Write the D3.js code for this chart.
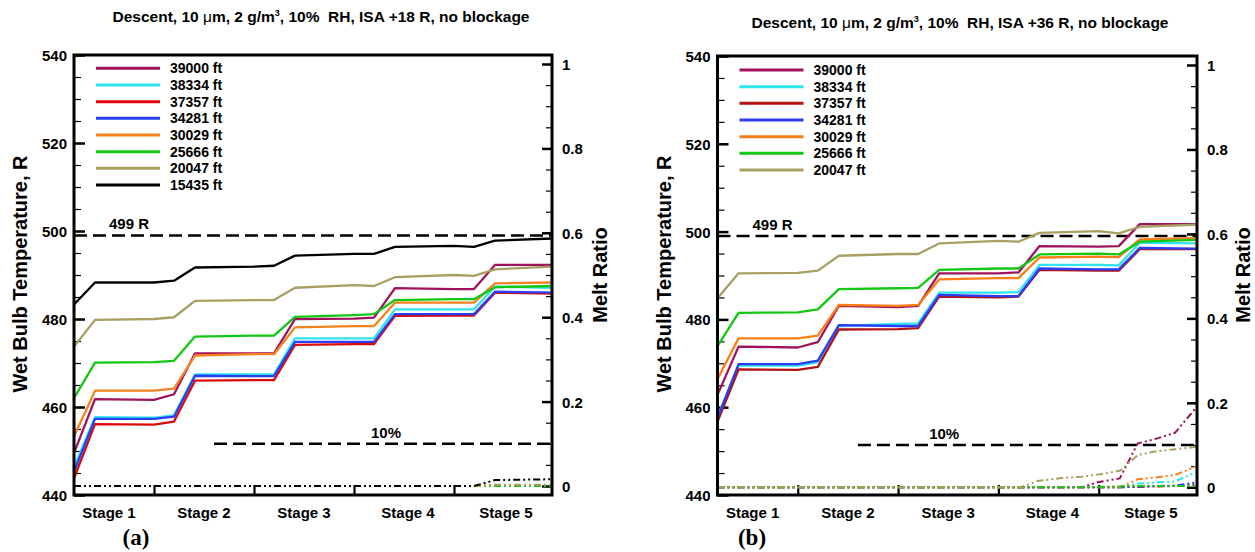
<!DOCTYPE html>
<meta charset="utf-8">
<style>
body { margin: 0; background: #fff; }
svg { font-family: "Liberation Sans", Arial, sans-serif; font-weight: bold; }
.axis path { display: none; }
.axis text { font-size: 15px; font-weight: bold; fill: #000; }
</style>
<body>
<script src="https://cdn.jsdelivr.net/npm/d3@7"></script>
<script>

// ---- data ----
var stageX = [0.2, 0.41, 1.0, 1.2, 1.41, 2.0, 2.2, 2.41, 3.0, 3.2, 3.41, 4.0, 4.2, 4.41, 4.98];
var stageLabels = ["Stage 1", "Stage 2", "Stage 3", "Stage 4", "Stage 5"];
var stageLabelX = [0.55, 1.5, 2.5, 3.54, 4.52];
var stageBounds = [1, 2, 3, 4];

var altitudesA = ["39000 ft", "38334 ft", "37357 ft", "34281 ft", "30029 ft", "25666 ft", "20047 ft", "15435 ft"];
var altitudesB = ["39000 ft", "38334 ft", "37357 ft", "34281 ft", "30029 ft", "25666 ft", "20047 ft"];

// wet bulb temperature, R  (panel a: ISA +18 R)
var wbtA39000 = [449.5, 461.8, 461.6, 462.9, 472.2, 472.2, 472.2, 480.0, 480.1, 480.3, 487.0, 486.8, 486.8, 492.3, 492.3];
var wbtA38334 = [446.4, 457.7, 457.6, 458.1, 467.4, 467.4, 467.4, 475.6, 475.6, 475.6, 482.2, 482.2, 482.2, 487.4, 487.1];
var wbtA37357 = [443.8, 456.1, 456.0, 456.7, 466.0, 466.1, 466.1, 474.1, 474.3, 474.3, 480.7, 480.8, 480.8, 486.0, 485.8];
var wbtA34281 = [445.3, 457.3, 457.3, 457.8, 467.1, 467.0, 467.0, 474.8, 474.8, 474.8, 481.1, 481.1, 481.1, 486.2, 486.0];
var wbtA30029 = [453.3, 463.7, 463.7, 464.2, 471.7, 472.0, 472.0, 478.1, 478.4, 478.4, 483.7, 483.7, 483.7, 488.1, 488.3];
var wbtA25666 = [462.0, 470.1, 470.2, 470.5, 476.0, 476.2, 476.2, 480.5, 480.9, 481.1, 484.3, 484.5, 484.5, 487.2, 487.5];
var wbtA20047 = [473.7, 479.8, 480.0, 480.4, 484.1, 484.3, 484.3, 487.1, 487.7, 487.5, 489.5, 490.0, 489.8, 491.3, 491.9];
var wbtA15435 = [483.3, 488.3, 488.3, 488.7, 491.7, 491.9, 492.1, 494.4, 494.8, 494.8, 496.4, 496.6, 496.4, 497.8, 498.3];

// wet bulb temperature, R  (panel b: ISA +36 R)
var wbtB39000 = [462.8, 473.8, 473.6, 474.8, 483.1, 482.8, 483.1, 490.5, 490.5, 490.7, 496.7, 496.6, 496.7, 501.7, 501.7];
var wbtB38334 = [457.8, 469.5, 469.5, 470.2, 478.5, 479.0, 479.1, 486.1, 486.1, 486.2, 492.4, 492.4, 492.3, 497.5, 497.3];
var wbtB37357 = [456.7, 468.6, 468.5, 469.2, 477.7, 477.8, 478.0, 485.2, 485.0, 485.2, 491.3, 491.1, 491.1, 496.0, 496.0];
var wbtB34281 = [457.5, 469.8, 469.8, 470.6, 478.7, 478.5, 478.5, 485.6, 485.3, 485.3, 491.6, 491.4, 491.4, 496.3, 496.1];
var wbtB30029 = [466.4, 475.7, 475.7, 476.3, 483.3, 483.1, 483.3, 489.1, 489.4, 489.4, 494.1, 494.3, 494.2, 498.2, 498.5];
var wbtB25666 = [473.9, 481.5, 481.6, 482.3, 486.9, 487.1, 487.2, 491.3, 491.6, 491.6, 494.8, 495.0, 494.8, 497.7, 498.1];
var wbtB20047 = [484.8, 490.5, 490.6, 491.1, 494.5, 494.9, 494.9, 497.3, 497.9, 497.7, 499.7, 500.1, 499.6, 501.1, 501.6];

// melt ratio (right axis)
var meltXA = [0.2, 4.2, 4.41, 4.98];
var meltA39000 = [0, 0, 0, 0];
var meltA38334 = [0, 0, 0, 0];
var meltA37357 = [0, 0, 0, 0];
var meltA34281 = [0, 0, 0, 0];
var meltA30029 = [0, 0, 0, 0];
var meltA25666 = [0, 0, 0, 0];
var meltA20047 = [0, 0, 0.003, 0.003];
var meltA15435 = [0, 0, 0.014, 0.016];

var meltXB = [0.2, 3.0, 3.22, 3.39, 3.63, 3.83, 3.99, 4.21, 4.39, 4.56, 4.76, 4.98];
var meltB39000 = [0, 0, 0, 0, 0, 0, 0.012, 0.021, 0.104, 0.114, 0.129, 0.191];
var meltB38334 = [0, 0, 0, 0, 0, 0, 0, 0, 0.009, 0.011, 0.014, 0.037];
var meltB37357 = [0, 0, 0, 0, 0, 0, 0, 0, 0.001, 0.002, 0.003, 0.006];
var meltB34281 = [0, 0, 0, 0, 0, 0, 0, 0, 0.002, 0.003, 0.004, 0.012];
var meltB30029 = [0, 0, 0, 0, 0, 0, 0, 0, 0.019, 0.023, 0.029, 0.05];
var meltB25666 = [0, 0, 0, 0, 0, 0, 0.001, 0.002, 0.003, 0.003, 0.003, 0.003];
var meltB20047 = [0, 0, 0, 0.015, 0.022, 0.025, 0.030, 0.039, 0.076, 0.085, 0.090, 0.096];

var tempTicks = [440, 460, 480, 500, 520, 540];
var meltTicks = [0, 0.2, 0.4, 0.6, 0.8, 1];
var limitTemp = 499;
var limitMelt = 0.1;

// colours, one per altitude (same order as the legends)
var colorsA = ["#a0135c", "#2fe3ef", "#dd0a0a", "#2b3cf5", "#f5821f", "#12c812", "#a8a062", "#000000"];
var colorsB = ["#a0135c", "#2fe3ef", "#b31212", "#2b3cf5", "#fb7d16", "#12c812", "#a8a062"];

var W = 1255, H = 552;
var svg = d3.select("body").append("svg")
    .attr("width", W)
    .attr("height", H);

function drawPanel(p) {
  var g = svg.append("g");

  var x = d3.scaleLinear().domain([0.2, 4.98]).range([p.left, p.right]);
  var y = d3.scaleLinear().domain([440, 540]).range([p.bottom, p.top]);
  var y2 = d3.scaleLinear().domain([0, 1]).range([p.meltZero, p.meltOne]);

  // minor ticks
  g.append("g").attr("class", "axis")
      .attr("transform", "translate(" + p.left + ",0)")
      .call(d3.axisLeft(y).tickValues(d3.range(440, 541, 5)).tickSize(-7).tickFormat(""))
      .selectAll("line").attr("stroke-width", 1.2);
  g.append("g").attr("class", "axis")
      .attr("transform", "translate(" + p.right + ",0)")
      .call(d3.axisRight(y2).tickValues(d3.range(0, 1.001, 0.05)).tickSize(-6).tickFormat(""))
      .selectAll("line").attr("stroke-width", 1.2);

  // major ticks + labels
  var la = g.append("g").attr("class", "axis")
      .attr("transform", "translate(" + p.left + ",0)")
      .call(d3.axisLeft(y).tickValues(tempTicks).tickSize(-11).tickPadding(7));
  la.selectAll("line").attr("stroke-width", 2.5);
  la.selectAll("text").attr("dy", "0.36em");

  var ra = g.append("g").attr("class", "axis")
      .attr("transform", "translate(" + p.right + ",0)")
      .call(d3.axisRight(y2).tickValues(meltTicks).tickSize(-10).tickPadding(10)
        .tickFormat(function(d) { return d3.format("")(+d.toFixed(1)); }));
  ra.selectAll("line").attr("stroke-width", 2.5);
  ra.selectAll("text").attr("dy", "0.36em");

  var ba = g.append("g").attr("class", "axis")
      .attr("transform", "translate(0," + p.bottom + ")")
      .call(d3.axisBottom(x).tickValues(stageBounds).tickSize(-10).tickFormat(""));
  ba.selectAll("line").attr("stroke-width", 2.2);

  // stage names between the ticks
  g.selectAll(".stage").data(stageLabels)
    .enter().append("text")
      .attr("x", function(d, i) { return x(stageLabelX[i]); })
      .attr("y", 518)
      .attr("text-anchor", "middle")
      .style("font-size", "15px")
      .text(function(d) { return d; });

  // reference lines
  g.append("line")
      .attr("x1", p.left).attr("x2", p.right)
      .attr("y1", y(limitTemp)).attr("y2", y(limitTemp))
      .attr("stroke", "#000").attr("stroke-width", 2.5)
      .attr("stroke-dasharray", "13,6");
  g.append("text")
      .attr("x", p.left + 35).attr("y", y(limitTemp) - 6)
      .style("font-size", "15px")
      .text("499 R");

  g.append("line")
      .attr("x1", x(1.6)).attr("x2", p.right)
      .attr("y1", y2(limitMelt)).attr("y2", y2(limitMelt))
      .attr("stroke", "#000").attr("stroke-width", 2.5)
      .attr("stroke-dasharray", "13,6");
  g.append("text")
      .attr("x", x(p.pctX)).attr("y", y2(limitMelt) - 6)
      .style("font-size", "15px")
      .text("10%");

  // melt ratio curves (dash dot dot)
  var meltLine = d3.line()
      .x(function(d) { return x(d[0]); })
      .y(function(d) { return y2(d[1]); });
  p.melt.forEach(function(m, i) {
    g.append("path")
        .datum(p.meltX.map(function(v, j) { return [v, m[j]]; }))
        .attr("fill", "none")
        .attr("stroke", p.colors[i])
        .attr("stroke-width", 2)
        .attr("stroke-dasharray", "7,3,2,3,2,3")
        .attr("d", meltLine);
  });

  // wet bulb temperature curves
  var line = d3.line()
      .x(function(d) { return x(d[0]); })
      .y(function(d) { return y(d[1]); });
  p.wbt.forEach(function(s, i) {
    g.append("path")
        .datum(stageX.map(function(v, j) { return [v, s[j]]; }))
        .attr("fill", "none")
        .attr("stroke", p.colors[i])
        .attr("stroke-width", 2.3)
        .attr("stroke-linejoin", "round")
        .attr("d", line);
  });

  // frame
  g.append("rect")
      .attr("x", p.left).attr("y", p.top)
      .attr("width", p.right - p.left).attr("height", p.bottom - p.top)
      .attr("fill", "none").attr("stroke", "#000").attr("stroke-width", 3);

  // legend
  var legend = g.append("g").attr("class", "legend");
  p.names.forEach(function(n, i) {
    var ly = p.legendTop + i * 16.67;
    legend.append("line")
        .attr("x1", p.left + 22).attr("x2", p.left + 86)
        .attr("y1", ly).attr("y2", ly)
        .attr("stroke", p.colors[i]).attr("stroke-width", 3);
    legend.append("text")
        .attr("x", p.left + 96).attr("y", ly + 5)
        .style("font-size", "14px")
        .text(n);
  });

  // axis titles
  g.append("text")
      .attr("transform", "translate(" + p.ylabX + ",274) rotate(-90)")
      .attr("text-anchor", "middle")
      .style("font-size", "20px")
      .text("Wet Bulb Temperature, R");
  g.append("text")
      .attr("transform", "translate(" + p.y2labX + ",275) rotate(-90)")
      .attr("text-anchor", "middle")
      .style("font-size", "20px")
      .text("Melt Ratio");

  // title
  var t = g.append("text")
      .attr("x", p.titleX).attr("y", p.titleY)
      .attr("text-anchor", "middle")
      .style("font-size", "15.5px")
      .style("white-space", "pre");
  t.append("tspan").text("Descent, 10 ");
  t.append("tspan").style("font-weight", "normal").text("\u03bc");
  t.append("tspan").text("m, 2 g/m");
  t.append("tspan").attr("dy", -6).style("font-size", "9px").text("3");
  t.append("tspan").attr("dy", 6).text(", 10%  RH, ISA " + p.isa + " R, no blockage");

  // panel tag
  g.append("text")
      .attr("x", p.tagX).attr("y", 545)
      .attr("text-anchor", "middle")
      .style("font-family", "'Liberation Serif', 'Times New Roman', serif")
      .style("font-size", "23px")
      .text(p.tag);
}

drawPanel({
  left: 74, right: 552, top: 55, bottom: 495, meltZero: 486, meltOne: 64,
  wbt: [wbtA39000, wbtA38334, wbtA37357, wbtA34281, wbtA30029, wbtA25666, wbtA20047, wbtA15435],
  meltX: meltXA,
  melt: [meltA39000, meltA38334, meltA37357, meltA34281, meltA30029, meltA25666, meltA20047, meltA15435],
  names: altitudesA, colors: colorsA, legendTop: 68.3,
  pctX: 3.17, ylabX: 27, y2labX: 607, titleX: 321, titleY: 22, isa: "+18", tag: "(a)", tagX: 136
});

drawPanel({
  left: 717.5, right: 1197, top: 56, bottom: 495, meltZero: 487.3, meltOne: 65,
  wbt: [wbtB39000, wbtB38334, wbtB37357, wbtB34281, wbtB30029, wbtB25666, wbtB20047],
  meltX: meltXB,
  melt: [meltB39000, meltB38334, meltB37357, meltB34281, meltB30029, meltB25666, meltB20047],
  names: altitudesB, colors: colorsB, legendTop: 70,
  pctX: 2.31, ylabX: 671, y2labX: 1250, titleX: 960, titleY: 28, isa: "+36", tag: "(b)", tagX: 752
});

</script>
</body>
